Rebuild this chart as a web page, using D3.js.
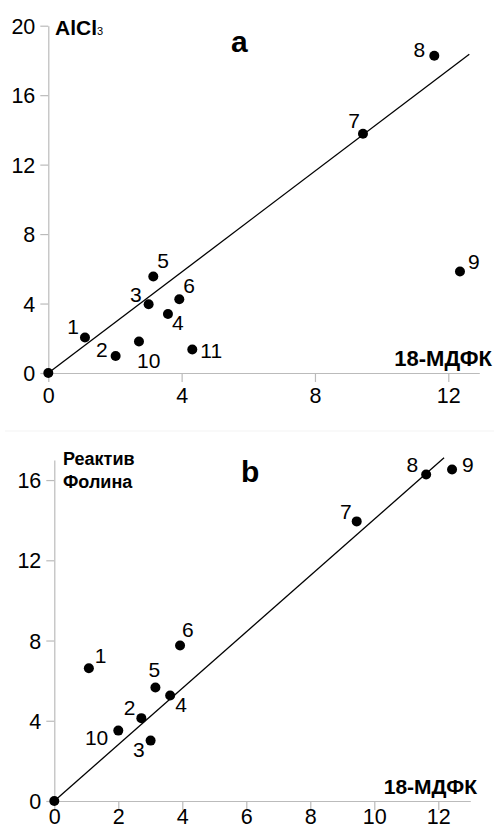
<!DOCTYPE html>
<html><head><meta charset="utf-8">
<script src="https://cdn.jsdelivr.net/npm/d3@7"></script>
<style>html,body{margin:0;padding:0;background:#fff}svg{display:block}text{font-family:"Liberation Sans",Arial,sans-serif;fill:#000}</style>
</head><body>
<script>
// Panel a: 18-МДФК (x) vs AlCl3 (y)
const aLabels = ["0","1","2","3","4","5","6","7","8","9","10","11"];
const aX = [0, 1.10, 2.02, 3.01, 3.59, 3.15, 3.93, 9.44, 11.58, 12.35, 2.72, 4.32];
const aY = [0, 2.04, 0.98, 3.96, 3.40, 5.56, 4.25, 13.78, 18.27, 5.84, 1.81, 1.35];
const aTrendX = [0, 12.63];
const aTrendY = [0, 18.35];
const aXTicks = [0, 4, 8, 12];
const aYTicks = [0, 4, 8, 12, 16, 20];

// Panel b: 18-МДФК (x) vs Folin reagent (y)
const bLabels = ["0","1","2","3","4","5","6","7","8","9","10"];
const bX = [0, 1.08, 2.72, 3.01, 3.62, 3.16, 3.93, 9.45, 11.62, 12.43, 2.00];
const bY = [0, 6.62, 4.13, 3.01, 5.26, 5.66, 7.75, 13.94, 16.28, 16.53, 3.51];
const bTrendX = [0, 12.18];
const bTrendY = [0, 17.11];
const bXTicks = [0, 2, 4, 6, 8, 10, 12];
const bYTicks = [0, 4, 8, 12, 16];

// label placement (layout only): [anchor, dx, dy]
const aLabelPos = {"1":["end",-6,-4],"2":["end",-8,1],"3":["end",-7,-2],"4":["start",4,16],"5":["start",4,-8],"6":["start",4,-6],"7":["end",-3,-6],"8":["end",-9,1],"9":["start",8,-3],"10":["start",-2,26],"11":["start",8,8]};
const bLabelPos = {"1":["start",6,-5],"2":["end",-6,-3],"3":["end",-6,16],"4":["start",5,17],"5":["start",-7,-10],"6":["start",2,-9],"7":["end",-5,-2],"8":["end",-8,-2],"9":["start",10,3],"10":["end",-10,14]};

const svg = d3.select("body").append("svg").attr("width",494).attr("height",830);

svg.append("line").attr("x1",5).attr("x2",494).attr("y1",431).attr("y2",431).attr("stroke","#f3f3f3");

function panel(cfg){
  const g = svg.append("g");
  const x = d3.scaleLinear().domain(cfg.xDom).range(cfg.xRange);
  const y = d3.scaleLinear().domain(cfg.yDom).range(cfg.yRange);
  const xa = g.append("g").attr("transform",`translate(0,${cfg.yRange[0]})`)
    .call(d3.axisBottom(x).tickValues(cfg.xTicks).tickFormat(d3.format("d")).tickSizeInner(9).tickSizeOuter(0).tickPadding(cfg.xPad));
  const ya = g.append("g").attr("transform",`translate(${cfg.xRange[0]},0)`)
    .call(d3.axisLeft(y).tickValues(cfg.yTicks).tickFormat(d3.format("d")).tickSizeInner(8).tickSizeOuter(0).tickPadding(5));
  [xa,ya].forEach(a=>{
    a.selectAll("path,line").attr("stroke","#bbb").attr("stroke-width",1.2);
    a.selectAll("text").attr("font-size",21.5).attr("font-family","Liberation Sans, Arial, sans-serif").attr("fill","#000");
  });
  ya.selectAll(".tick text").attr("dy","0.35em");
  // trend line
  g.append("line")
    .attr("x1",x(cfg.tx[0])).attr("y1",y(cfg.ty[0]))
    .attr("x2",x(cfg.tx[1])).attr("y2",y(cfg.ty[1]))
    .attr("stroke","#000").attr("stroke-width",1.3);
  // points
  cfg.xs.forEach((v,i)=>{
    g.append("circle").attr("cx",x(v)).attr("cy",y(cfg.ys[i])).attr("r",5).attr("fill","#000");
    const p = cfg.pos[cfg.labels[i]];
    if(p){
      g.append("text").attr("x",x(v)+p[1]).attr("y",y(cfg.ys[i])+p[2])
        .attr("text-anchor",p[0]).attr("font-size",21).text(cfg.labels[i]);
    }
  });
  return g;
}

const ga = panel({xDom:[0,12.93],xRange:[48.3,479.3],yDom:[0,20],yRange:[373,25.7],xPad:6,
  xTicks:aXTicks,yTicks:aYTicks,tx:aTrendX,ty:aTrendY,xs:aX,ys:aY,labels:aLabels,pos:aLabelPos});
const gb = panel({xDom:[0,13],xRange:[54.3,470.3],yDom:[0,17],yRange:[801,460],xPad:-1,
  xTicks:bXTicks,yTicks:bYTicks,tx:bTrendX,ty:bTrendY,xs:bX,ys:bY,labels:bLabels,pos:bLabelPos});

// titles panel a
const t1 = ga.append("text").attr("x",55).attr("y",35).attr("font-size",21).attr("font-weight","bold");
t1.append("tspan").text("AlCl");
t1.append("tspan").attr("font-size",11).attr("font-weight","normal").text("3");
ga.append("text").attr("x",231).attr("y",52).attr("font-size",30).attr("font-weight","bold").text("a");
ga.append("text").attr("x",492).attr("y",366).attr("text-anchor","end").attr("font-size",22).attr("font-weight","bold").text("18-МДФК");

// titles panel b
gb.append("text").attr("x",63).attr("y",465).attr("font-size",18).attr("font-weight","bold").text("Реактив");
gb.append("text").attr("x",63).attr("y",488).attr("font-size",18).attr("font-weight","bold").text("Фолина");
gb.append("text").attr("x",241).attr("y",482).attr("font-size",30).attr("font-weight","bold").text("b");
gb.append("text").attr("x",477).attr("y",794).attr("text-anchor","end").attr("font-size",21).attr("font-weight","bold").text("18-МДФК");
</script>
</body></html>
